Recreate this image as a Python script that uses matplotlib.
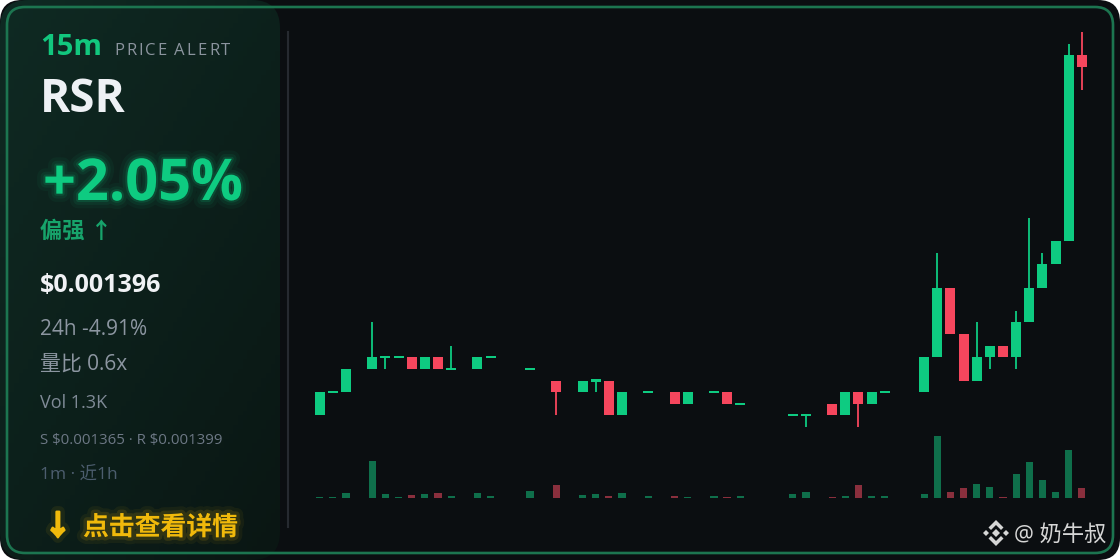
import numpy as np
import matplotlib
matplotlib.use('Agg')
import matplotlib.pyplot as plt
from matplotlib.patches import FancyBboxPatch, Polygon
import matplotlib.patheffects as pe

plt.rcParams['font.family'] = ['Open Sans', 'Noto Sans CJK SC', 'DejaVu Sans']

## 1m candles for the last hour, prices in ticks of 0.000001, None = no trade
TICK = 1e-6
opens = [1366, 1368, 1368, None, 1370, 1371, 1371, 1371, 1370, 1371,
         1370, None, 1370, 1371, None, None, 1370, None, 1369, None,
         1368, 1369, 1369, 1366, None, 1368, None, 1368, 1367, None,
         1368, 1368, 1367, None, None, None, 1366, 1366, None, 1367,
         1366, 1368, 1367, 1368, None, None, 1368, 1371, 1377, 1373,
         1369, 1371, 1372, 1371, 1374, 1377, 1379, 1381, 1397]
highs = [1368, 1368, 1370, None, 1374, 1371, 1371, 1371, 1371, 1371,
         1372, None, 1371, 1371, None, None, 1370, None, 1369, None,
         1369, 1369, 1369, 1368, None, 1368, None, 1368, 1368, None,
         1368, 1368, 1367, None, None, None, 1366, 1366, None, 1367,
         1368, 1368, 1368, 1368, None, None, 1371, 1380, 1377, 1373,
         1374, 1372, 1372, 1375, 1383, 1380, 1381, 1398, 1399]
lows = [1366, 1368, 1368, None, 1370, 1370, 1371, 1370, 1370, 1370,
        1370, None, 1370, 1371, None, None, 1370, None, 1366, None,
        1368, 1368, 1366, 1366, None, 1368, None, 1367, 1367, None,
        1368, 1367, 1367, None, None, None, 1366, 1365, None, 1366,
        1366, 1365, 1367, 1368, None, None, 1368, 1371, 1373, 1369,
        1369, 1370, 1371, 1370, 1374, 1377, 1379, 1381, 1394]
closes = [1368, 1368, 1370, None, 1371, 1371, 1371, 1370, 1371, 1370,
          1370, None, 1371, 1371, None, None, 1370, None, 1368, None,
          1369, 1369, 1366, 1368, None, 1368, None, 1367, 1368, None,
          1368, 1367, 1367, None, None, None, 1366, 1366, None, 1366,
          1368, 1367, 1368, 1368, None, None, 1371, 1377, 1373, 1369,
          1371, 1372, 1371, 1374, 1377, 1379, 1381, 1397, 1396]
volumes = [0.7, 1.5, 5.0, None, 36.7, 3.7, 1.0, 2.7, 4.3, 5.3,
           2.3, None, 4.7, 2.0, None, None, 7.0, None, 13.0, None,
           3.0, 4.3, 2.0, 4.7, None, 2.0, None, 1.7, 1.3, None,
           2.0, 0.7, 1.7, None, None, None, 3.7, 5.7, None, 0.7,
           2.0, 13.3, 2.3, 2.0, None, None, 4.3, 61.7, 6.0, 10.0,
           14.3, 10.7, 1.0, 23.7, 35.7, 18.3, 5.7, 47.7, 9.7]

symbol = 'RSR'
change_15m = '+2.05%'
last_price = r'\$0.001396'
info_lines = ['24h -4.91%', '量比 0.6x', 'Vol 1.3K']
support, resistance = r'\$0.001365', r'\$0.001399'

GREEN = '#0ecb81'
RED = '#f6465d'
BG = '#0b0e11'

W, H = 1120, 560
fig = plt.figure(figsize=(W / 100, H / 100), dpi=100, facecolor='white')

## background layer in pixel coordinates
bg = fig.add_axes([0, 0, 1, 1])
bg.set_xlim(0, W)
bg.set_ylim(H, 0)
bg.axis('off')

card = FancyBboxPatch((0, 0), W, H, boxstyle='round,pad=0,rounding_size=22',
                      fc=BG, ec='none')
bg.add_patch(card)

panel = FancyBboxPatch((0, 0), 280, H, boxstyle='round,pad=0,rounding_size=28',
                       fc='none', ec='none')
bg.add_patch(panel)
gx, gy = np.meshgrid(np.linspace(0, 1, 60), np.linspace(0, 1, 120))
t = np.clip(0.55 * gy + 0.45 * gx, 0, 1)[..., None]
c0 = np.array([15, 42, 35]) / 255
c1 = np.array([10, 22, 19]) / 255
grad = c0 * (1 - t) + c1 * t
im = bg.imshow(grad, extent=(0, 280, H, 0), aspect='auto', zorder=1)
im.set_clip_path(panel)

border = FancyBboxPatch((7, 7), W - 14, H - 14, boxstyle='round,pad=0,rounding_size=18',
                        fc='none', ec='#1c7550', lw=1.9, zorder=3)
bg.add_patch(border)
bg.plot([287.5, 287.5], [32, 527], color='#262a30', lw=1.5, zorder=3)


def spaced_text(ax, x, y, s, gap, **kw):
    r = fig.canvas.get_renderer()
    for ch in s:
        if ch == ' ':
            x += 5
            continue
        tx = ax.text(x, y, ch, **kw)
        bb = tx.get_window_extent(renderer=r)
        x += bb.width + gap


bg.text(40, 55, '15m', color='#12c77e', fontsize=21, fontweight='bold', va='baseline', zorder=4)
spaced_text(bg, 114, 55, 'PRICE ALERT', 2.1, color='#8b949e', fontsize=12,
            va='baseline', zorder=4)
bg.text(40, 112, symbol, color='#eef1f5', fontsize=33, fontweight='bold', va='baseline', zorder=4)

glow_g = [pe.Stroke(linewidth=12, foreground=GREEN, alpha=0.05),
          pe.Stroke(linewidth=7, foreground=GREEN, alpha=0.08),
          pe.Stroke(linewidth=3, foreground=GREEN, alpha=0.15), pe.Normal()]
bg.text(43, 200, change_15m, color=GREEN, fontsize=41.5, fontweight='bold', va='baseline',
        zorder=4, path_effects=glow_g)
bg.text(40, 238, '偏强 ↑', color='#17a36b', fontsize=16, fontweight='bold', va='baseline', zorder=4)
bg.text(40, 292, last_price, color='#f0f2f5', fontsize=18, fontweight='bold', va='baseline', zorder=4)
bg.text(40, 335, info_lines[0], color='#8c96a1', fontsize=15, va='baseline', zorder=4)
bg.text(40, 371, info_lines[1], color='#8c96a1', fontsize=15, va='baseline', zorder=4)
bg.text(40, 408, info_lines[2], color='#7f8a96', fontsize=13, va='baseline', zorder=4)
bg.text(40, 444, f'S {support} · R {resistance}', color='#6d7885', fontsize=10.8,
        va='baseline', zorder=4)
bg.text(40, 480, '1m · 近1h', color='#4c5d6e', fontsize=12.5, va='baseline', zorder=4)

YEL = '#f0b90b'
glow_y = [pe.Stroke(linewidth=10, foreground=YEL, alpha=0.06),
          pe.Stroke(linewidth=5, foreground=YEL, alpha=0.12), pe.Normal()]
arrow_fx = [pe.Stroke(linewidth=8, foreground=YEL, alpha=0.08),
            pe.Stroke(linewidth=1.6, foreground=YEL), pe.Normal()]
bg.text(44, 535, '↓', color=YEL, fontsize=20, fontweight='bold', va='baseline', zorder=4,
        path_effects=arrow_fx)
bg.text(83, 535, '点击查看详情', color=YEL, fontsize=18.6, fontweight='bold', va='baseline',
        zorder=4, path_effects=glow_y)

## watermark with a small diamond logo
lx, ly = 996, 533
logo = [[(0, -4), (4, 0), (0, 4), (-4, 0)],
        [(-10, -3), (-7, 0), (-10, 3), (-13, 0)],
        [(10, -3), (13, 0), (10, 3), (7, 0)],
        [(-7.5, -5.5), (0, -13), (7.5, -5.5), (5, -3), (0, -8), (-5, -3)],
        [(-7.5, 5.5), (0, 13), (7.5, 5.5), (5, 3), (0, 8), (-5, 3)]]
for shape in logo:
    bg.add_patch(Polygon([(lx + a, ly + b) for a, b in shape], closed=True,
                         fc='#d6d6d6', ec='none', zorder=4))
bg.text(1014, 541, '@ 奶牛叔', color='#d6d6d6', fontsize=16, va='baseline', zorder=4)

## candles
o = np.array(opens, dtype=float) * TICK
h = np.array(highs, dtype=float) * TICK
l = np.array(lows, dtype=float) * TICK
c = np.array(closes, dtype=float) * TICK
v = np.array(volumes, dtype=float)
x = np.arange(len(o))
ok = ~np.isnan(o)

ax = fig.add_axes([300 / W, 1 - 440 / H, 800 / W, 420 / H])
ax.set_xlim(-1.5, 59.38)
ax.set_ylim(1363.88 * TICK, 1400.03 * TICK)
ax.axis('off')
ax.patch.set_alpha(0)

px = (1400.03 - 1363.88) * TICK / 420
min_h = 2.2 * px
up = c >= o
colors = np.where(up, GREEN, RED)

has_wick = ok & (h > l)
ax.vlines(x[has_wick], l[has_wick], h[has_wick], colors=colors[has_wick], lw=1.3, zorder=2)

body = np.abs(c - o)
bottom = np.where(body < min_h, o - min_h / 2, np.minimum(o, c))
height = np.maximum(body, min_h)
ax.bar(x[ok], height[ok], bottom=bottom[ok], width=0.76, color=colors[ok], zorder=3,
       linewidth=0)

## volume
axv = fig.add_axes([300 / W, 1 - 498 / H, 800 / W, 68 / H])
axv.set_xlim(-1.5, 59.38)
axv.set_ylim(0, np.nanmax(v) * 68 / 61.7)
axv.axis('off')
axv.patch.set_alpha(0)
vcol = np.where(up, '#0f6f4b', '#8a2f3d')
axv.bar(x[ok], v[ok], width=0.55, color=vcol[ok], linewidth=0)

fig.savefig('out.png', dpi=100, facecolor='white')
